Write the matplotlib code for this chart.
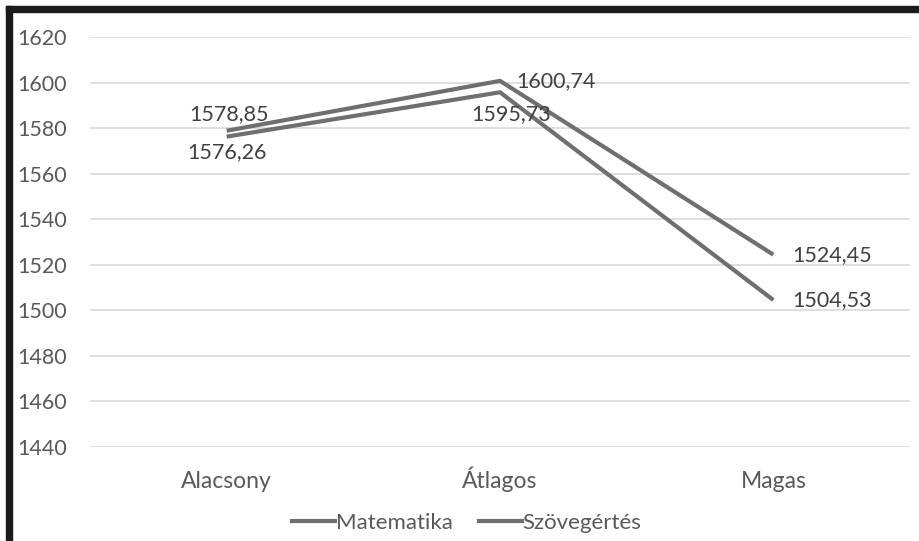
import matplotlib
matplotlib.use("Agg")
import matplotlib.pyplot as plt
from matplotlib.lines import Line2D
from matplotlib.patches import Rectangle

categories = ["Alacsony", "Átlagos", "Magas"]
matematika = [1578.85, 1600.74, 1524.45]
szovegertes = [1576.26, 1595.73, 1504.53]
series_names = ["Matematika", "Szövegértés"]
yticks = [1440, 1460, 1480, 1500, 1520, 1540, 1560, 1580, 1600, 1620]

plt.rcParams['font.family'] = ['Lato', 'DejaVu Sans']

fig = plt.figure(figsize=(9.2, 5.41), dpi=100)
W, H = 920, 541
ax = fig.add_axes([90 / W, 1 - 447 / H, 820 / W, (447 - 37) / H])

x = list(range(len(categories)))
line_color = "#6f6f6f"
ax.plot(x, matematika, color=line_color, lw=3, solid_capstyle="butt", solid_joinstyle="miter", zorder=3)
ax.plot(x, szovegertes, color=line_color, lw=3, solid_capstyle="butt", solid_joinstyle="miter", zorder=3)

ax.set_xlim(-0.5, 2.5)
ax.set_ylim(1440, 1620)
ax.set_yticks(yticks)
ax.set_yticklabels([str(v) for v in yticks])
ax.set_xticks(x)
ax.set_xticklabels(categories)
ax.tick_params(axis="both", length=0, labelcolor="#595959")
ax.tick_params(axis="y", pad=(90 - 17) * 0.72, labelsize=15.5)
ax.tick_params(axis="x", pad=41 * 0.72, labelsize=16.5)
for lbl in ax.get_yticklabels():
    lbl.set_horizontalalignment("left")
for lbl in ax.get_xticklabels():
    lbl.set_verticalalignment("baseline")
ax.grid(axis="y", color="#d9d9d9", lw=1.2)
ax.set_axisbelow(True)
for s in ax.spines.values():
    s.set_visible(False)

def fmt(v):
    return f"{v:.2f}".replace(".", ",")

lab_kw = dict(fontsize=15.5, color="#404040", zorder=4)
# Alacsony
ax.annotate(fmt(matematika[0]), (x[0], matematika[0]), xytext=(2, 5), textcoords="offset points", ha="center", va="bottom", **lab_kw)
ax.annotate(fmt(szovegertes[0]), (x[0], szovegertes[0]), xytext=(0, -4), textcoords="offset points", ha="center", va="top", **lab_kw)
# Átlagos
ax.annotate(fmt(matematika[1]), (x[1], matematika[1]), xytext=(12, 0), textcoords="offset points", ha="left", va="center", **lab_kw)
ax.annotate(fmt(szovegertes[1]), (x[1], szovegertes[1]), xytext=(8, -16), textcoords="offset points", ha="center", va="center", **lab_kw)
# Magas
ax.annotate(fmt(matematika[2]), (x[2], matematika[2]), xytext=(14, 0), textcoords="offset points", ha="left", va="center", **lab_kw)
ax.annotate(fmt(szovegertes[2]), (x[2], szovegertes[2]), xytext=(14, 0), textcoords="offset points", ha="left", va="center", **lab_kw)

handles = [Line2D([0], [0], color=line_color, lw=3) for _ in series_names]
fig.legend(handles, series_names, loc="center", bbox_to_anchor=(467 / W, 1 - 523 / H),
           ncol=2, frameon=False, fontsize=16, handlelength=1.9, handletextpad=0.05,
           columnspacing=1.2, labelcolor="#595959")

# black frame (left and top)
fig.patches.append(Rectangle((6 / W, 0), 6 / W, 1 - 6 / H, transform=fig.transFigure, color="#1a1a1a", zorder=10))
fig.patches.append(Rectangle((6 / W, 1 - 12 / H), 1 - 6 / W, 6 / H, transform=fig.transFigure, color="#1a1a1a", zorder=10))

fig.savefig("out.png", dpi=100)
